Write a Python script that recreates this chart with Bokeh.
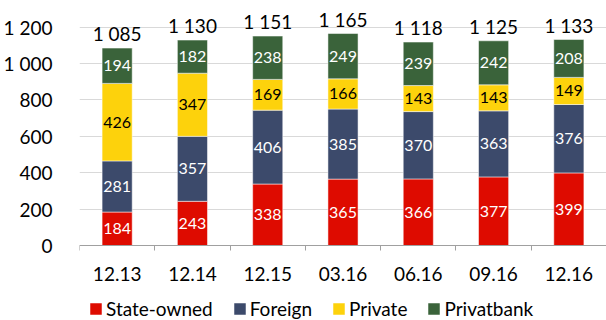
import numpy as np
from bokeh.plotting import figure
from bokeh.models import ColumnDataSource, Range1d, FixedTicker, Legend, LegendItem
from bokeh.core.properties import value
from bokeh.embed import file_html
from bokeh.resources import INLINE

categories = ["12.13", "12.14", "12.15", "03.16", "06.16", "09.16", "12.16"]
state_owned = [184, 243, 338, 365, 366, 377, 399]
foreign = [281, 357, 406, 385, 370, 363, 376]
private = [426, 347, 169, 166, 143, 143, 149]
privatbank = [194, 182, 238, 249, 239, 242, 208]
totals = [1085, 1130, 1151, 1165, 1118, 1125, 1133]
series_names = ["State-owned", "Foreign", "Private", "Privatbank"]
y_ticks = [0, 200, 400, 600, 800, 1000, 1200]

colors = ["#DE0B00", "#3C4A6B", "#FDD20C", "#3A633A"]
label_colors = ["#FFFFFF", "#FFFFFF", "#000000", "#FFFFFF"]
FONT = "Lato"


def fmt(v):
    return f"{v:,}".replace(",", " ")


series = [state_owned, foreign, private, privatbank]
keys = ["s0", "s1", "s2", "s3"]
xs = list(range(len(categories)))
data = {"x": xs}
for k, s in zip(keys, series):
    data[k] = s
src = ColumnDataSource(data)

# frame spans the whole height; the value axis runs from 0 (at 245px) to 1200 (at ~27px)
p = figure(width=606, height=320, output_backend="svg", toolbar_location=None,
           x_range=Range1d(-0.5, len(categories) - 0.5), y_range=Range1d(-412, 1319),
           min_border_left=77, min_border_right=0, min_border_top=5, min_border_bottom=0)
p.outline_line_color = None
p.background_fill_color = "white"
p.border_fill_color = "white"

renderers = p.vbar_stack(keys, x="x", width=0.4, source=src, fill_color=colors,
                         line_color="#ffffff", line_alpha=0.5, line_width=1)

# segment labels
arr = np.array(series, dtype=float)
cum = np.cumsum(arr, axis=0)
lx, ly, lt, lc = [], [], [], []
for i in range(len(series)):
    for j in range(len(categories)):
        lx.append(xs[j])
        ly.append(cum[i, j] - arr[i, j] / 2)
        lt.append(str(series[i][j]))
        lc.append(label_colors[i])
lsrc = ColumnDataSource(dict(x=lx, y=ly, t=lt, c=lc))
p.text(x="x", y="y", text="t", source=lsrc, text_color="c", text_align="center",
       text_baseline="middle", text_font=value(FONT), text_font_size="16px")

tsrc = ColumnDataSource(dict(x=xs, y=list(cum[-1]), t=[fmt(v) for v in totals]))
p.text(x="x", y="y", text="t", source=tsrc, text_color="#000000", text_align="center",
       text_baseline="bottom", y_offset=-3, text_font=value(FONT), text_font_size="19px")

# axes
p.xaxis.fixed_location = 0
p.xaxis.ticker = FixedTicker(ticks=xs, minor_ticks=[i - 0.5 for i in range(len(categories) + 1)])
p.xaxis.major_label_overrides = {i: c for i, c in enumerate(categories)}
p.xaxis.major_tick_out = 0
p.xaxis.major_tick_in = 0
p.xaxis.minor_tick_out = 5
p.xaxis.minor_tick_in = 0
p.xaxis.minor_tick_line_color = "#a0a0a0"
p.xaxis.axis_line_color = "#a0a0a0"
p.xaxis.major_label_standoff = 16

p.yaxis.ticker = FixedTicker(ticks=y_ticks, minor_ticks=[])
p.yaxis.major_label_overrides = {v: fmt(v) for v in y_ticks}
p.yaxis.axis_line_color = None
p.yaxis.major_tick_line_color = None
p.yaxis.minor_tick_line_color = None
p.yaxis.major_label_standoff = 21

for ax in (p.xaxis[0], p.yaxis[0]):
    ax.major_label_text_font = FONT
    ax.major_label_text_font_size = "19px"
    ax.major_label_text_color = "#000000"

p.xgrid.visible = False
p.ygrid.ticker = FixedTicker(ticks=y_ticks, minor_ticks=[])
p.ygrid.grid_line_color = "#d9d9d9"

legend = Legend(items=[LegendItem(label=n, renderers=[r]) for n, r in zip(series_names, renderers)],
                orientation="horizontal", location=(9, 0),
                glyph_width=15, glyph_height=15, label_height=15, label_standoff=3, spacing=19,
                padding=0, margin=0, border_line_color=None, background_fill_alpha=0,
                label_text_font=FONT, label_text_font_size="19px", label_text_color="#000000")
p.add_layout(legend)

open("out.html", "w").write(file_html(p, INLINE))
